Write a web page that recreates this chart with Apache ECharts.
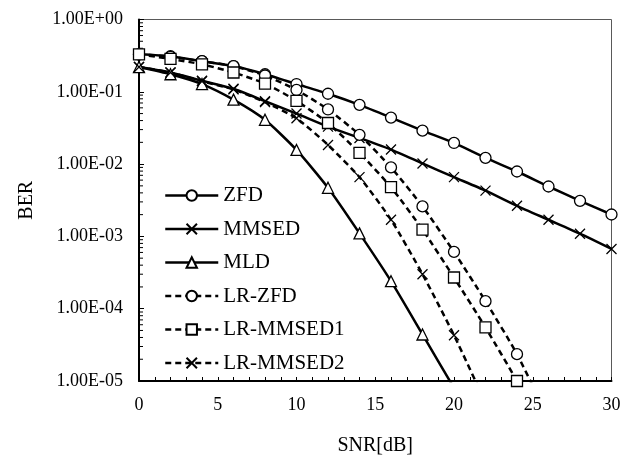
<!DOCTYPE html>
<html>
<head>
<meta charset="utf-8">
<script src="https://cdn.jsdelivr.net/npm/echarts@6/dist/echarts.min.js"></script>
<style>
  html, body { margin: 0; padding: 0; background: #fff; }
  #chart { width: 642px; height: 461px; }
</style>
</head>
<body>
<div id="chart"></div>
<script>
// SNR points (dB)
const snr = [0, 2, 4, 6, 8, 10, 12, 14, 16, 18, 20, 22, 24, 26, 28, 30]

// BER values
const zfd = [0.33, 0.31, 0.265, 0.227, 0.175, 0.128, 0.094, 0.066, 0.044, 0.029, 0.0196, 0.0122, 0.0079, 0.0049, 0.0031, 0.00201]
const mmsed = [0.22, 0.185, 0.142, 0.11, 0.074, 0.05, 0.033, 0.023, 0.0159, 0.0102, 0.0066, 0.0043, 0.00265, 0.0017, 0.00109, 0.00067]
const mld = [0.22, 0.175, 0.128, 0.078, 0.041, 0.0157, 0.0047, 0.0011, 0.00024, 0.000044, 0.000008]
const lrZfd = [0.33, 0.305, 0.265, 0.227, 0.168, 0.106, 0.057, 0.0254, 0.009, 0.0026, 0.00061, 0.000127, 0.0000235, 0.000003]
const lrMmsed1 = [0.33, 0.285, 0.24, 0.185, 0.13, 0.075, 0.037, 0.0143, 0.0048, 0.00124, 0.00027, 0.000055, 0.00001]
const lrMmsed2 = [0.22, 0.185, 0.14, 0.108, 0.072, 0.043, 0.0184, 0.0066, 0.0017, 0.0003, 0.000043, 0.000005]

// log minor ticks 2..9 per decade on the BER axis
const minorTicks = []
for (let d = -5; d < 0; d++) {
  for (let k = 2; k <= 9; k++) minorTicks.push([0, k * Math.pow(10, d)])
}

const FONT = 'Liberation Serif'
const X_PATH = 'path://M0,0L10,10M10,0L0,10'

const chart = echarts.init(document.getElementById('chart'))

function pairs(vals) {
  return vals.map((v, i) => [snr[i], v])
}

function makeSeries(name, vals, symbol, dashed) {
  return {
    name: name,
    type: 'line',
    data: pairs(vals),
    symbol: symbol,
    symbolSize: symbol === X_PATH ? 10 : 11,
    showAllSymbol: true,
    smooth: 0.2,
    clip: true,
    lineStyle: { color: '#000', width: 2.5, type: dashed ? [6, 4] : 'solid' },
    itemStyle: { color: '#fff', borderColor: '#000', borderWidth: 1.3 },
    z: 3
  }
}

function expLabel(v) {
  const e = Math.round(Math.log10(v))
  return '1.00E' + (e < 0 ? '-' : '+') + String(Math.abs(e)).padStart(2, '0')
}

const options = {
  animation: false,
  textStyle: { fontFamily: FONT, color: '#000' },
  grid: {
    left: 139, right: 30.5, top: 19.5, bottom: 73.5,
    show: true, borderColor: '#595959', borderWidth: 1
  },
  legend: {
    orient: 'vertical',
    left: 159,
    top: 180,
    itemWidth: 53,
    itemHeight: 13,
    itemGap: 12.5,
    lineStyle: { width: 2.5 },
    textStyle: { fontFamily: FONT, fontSize: 21, color: '#000' },
    data: ['ZFD', 'MMSED', 'MLD', 'LR-ZFD', 'LR-MMSED1', 'LR-MMSED2']
  },
  xAxis: {
    type: 'value',
    min: 0, max: 30, interval: 5,
    name: 'SNR[dB]',
    nameLocation: 'middle',
    nameGap: 55,
    nameTextStyle: { fontFamily: FONT, fontSize: 20, color: '#000' },
    axisLine: { lineStyle: { color: '#000', width: 2 } },
    axisTick: { inside: true, length: 4, lineStyle: { color: '#000', width: 1 } },
    minorTick: { show: true, splitNumber: 5, length: 4, lineStyle: { color: '#000', width: 1 } },
    axisLabel: { fontFamily: FONT, fontSize: 18, color: '#000', margin: 15 },
    splitLine: { show: false }
  },
  yAxis: {
    type: 'log',
    logBase: 10,
    min: 0.00001, max: 1,
    name: 'BER',
    nameLocation: 'middle',
    nameGap: 102,
    nameRotate: 90,
    nameTextStyle: { fontFamily: FONT, fontSize: 20, color: '#000' },
    axisLine: { show: true, lineStyle: { color: '#000', width: 2 } },
    axisTick: { show: true, inside: true, length: 5, lineStyle: { color: '#000', width: 1 } },
    axisLabel: { fontFamily: FONT, fontSize: 18, color: '#000', margin: 16, formatter: expLabel },
    splitLine: { show: false }
  },
  series: [
    {
      type: 'custom',
      silent: true,
      data: minorTicks,
      renderItem: function (params, api) {
        const p = api.coord([api.value(0), api.value(1)])
        return {
          type: 'line',
          shape: { x1: p[0], y1: p[1], x2: p[0] + 4, y2: p[1] },
          style: { stroke: '#000', lineWidth: 1 }
        }
      },
      z: 1
    },
    makeSeries('ZFD', zfd, 'circle', false),
    makeSeries('MMSED', mmsed, X_PATH, false),
    makeSeries('MLD', mld, 'triangle', false),
    makeSeries('LR-ZFD', lrZfd, 'circle', true),
    makeSeries('LR-MMSED1', lrMmsed1, 'rect', true),
    makeSeries('LR-MMSED2', lrMmsed2, X_PATH, true)
  ]
}

chart.setOption(options)
</script>
</body>
</html>
